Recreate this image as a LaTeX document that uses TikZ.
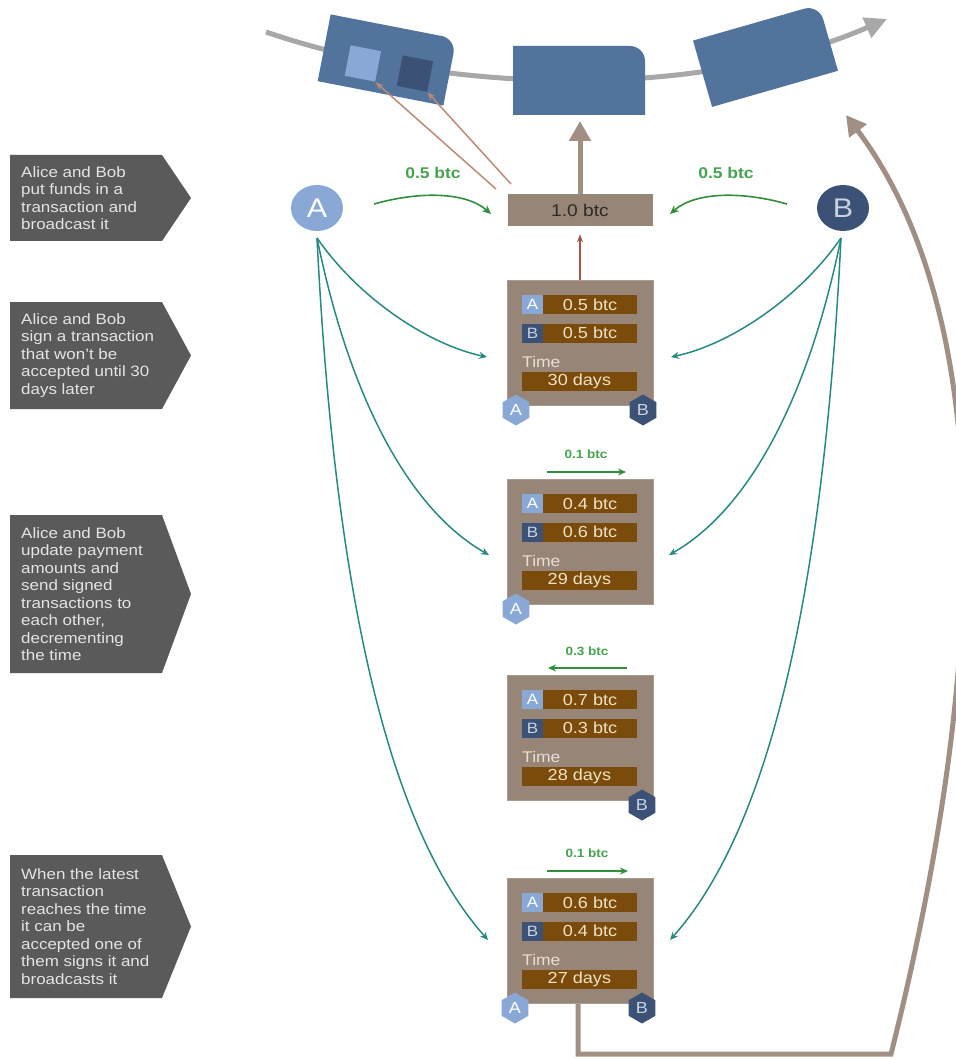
\documentclass[tikz,border=0pt]{standalone}
\usepackage{fontspec}
\setmainfont{Liberation Sans}[FakeStretch=1.13]
\usetikzlibrary{arrows.meta,shapes.geometric}
\definecolor{gray5}{HTML}{5A5A5A}
\definecolor{ltxt}{HTML}{E4E4E4}
\definecolor{taupe}{HTML}{978677}
\definecolor{taupeb}{HTML}{A99B8E}
\definecolor{barbrown}{HTML}{7A4B0A}
\definecolor{bartext}{HTML}{F0E2C4}
\definecolor{lightA}{HTML}{89A8D6}
\definecolor{darkB}{HTML}{3B5176}
\definecolor{paleB}{HTML}{C9D2DF}
\definecolor{blk}{HTML}{52739B}
\definecolor{curvegray}{HTML}{A8A8A8}
\definecolor{glab}{HTML}{45A24F}
\definecolor{garr}{HTML}{2F8F3C}
\definecolor{tealc}{HTML}{278A82}
\definecolor{loopc}{HTML}{A08F82}
\definecolor{salmonc}{HTML}{BC8A74}
\definecolor{redb}{HTML}{A35648}
\definecolor{timec}{HTML}{E8DED6}
\definecolor{btctext}{HTML}{2E2A26}
\newcommand\txbox[5]{%
  \node[txbg] (#1) at (580,#2+62.5) {};
  \node[sqA] (#1sa) at (532.5,#2+24.5) {A};
  \node[bar] (#1va) at (590,#2+24.5) {#3};
  \node[sqB] (#1sb) at (532.5,#2+53) {B};
  \node[bar] (#1vb) at (590,#2+53) {#4};
  \node[timelbl] (#1t) at (522,#2+82) {Time};
  \node[tbar] (#1d) at (579.4,#2+101.5) {#5};
}
\newcommand\leftbox[5]{% name, top, bottom, mid, text
  \fill[gray5] (10,#2) -- (162,#2) -- (191,#4) -- (162,#3) -- (10,#3) -- cycle;
  \node[ltext] (#1) at (21,#4) {#5};
}
\begin{document}
\begin{tikzpicture}[x=1pt,y=-1pt,
  ltext/.style={text=ltxt, align=left, inner sep=0, anchor=west, font=\fontsize{15}{17.5}\selectfont},
  txbg/.style={rectangle, fill=taupe, draw=taupeb, line width=1pt, minimum width=146pt, minimum height=125pt, inner sep=0},
  sqA/.style={rectangle, fill=lightA, minimum width=21.5pt, minimum height=19pt, inner sep=0, text=white, font=\fontsize{15}{15}\selectfont},
  sqB/.style={sqA, fill=darkB, text=paleB},
  bar/.style={rectangle, fill=barbrown, minimum width=94pt, minimum height=19pt, inner sep=0, text=bartext, font=\fontsize{16}{16}\selectfont},
  tbar/.style={bar, minimum width=115.5pt},
  timelbl/.style={anchor=west, inner sep=0, text=timec, font=\fontsize{15.5}{15.5}\selectfont},
  hexA/.style={regular polygon, regular polygon sides=6, shape border rotate=30, minimum size=31pt, inner sep=0, fill=lightA, text=white, font=\fontsize{16}{16}\selectfont},
  hexB/.style={hexA, fill=darkB, text=paleB},
  circA/.style={ellipse, minimum width=52pt, minimum height=46pt, inner sep=0, fill=lightA, text=white, font=\fontsize{27}{27}\selectfont},
  circB/.style={circA, fill=darkB, text=paleB},
  glabel/.style={text=glab, inner sep=0, font=\bfseries\fontsize{15.5}{15.5}\selectfont},
  gsmall/.style={text=glab, inner sep=0, font=\bfseries\fontsize{12}{12}\selectfont},
  garrow/.style={draw=garr, line width=1.6pt, -{Stealth[length=9pt,width=8pt]}},
  gsarrow/.style={draw=garr, line width=1.6pt, -{Stealth[length=8pt,width=7pt]}},
  tealarrow/.style={draw=tealc, line width=1.5pt, -{Stealth[length=8pt,width=7pt]}},
  bigarrow/.style={draw=loopc, line width=5pt, -{Triangle[length=20pt,width=21pt]}},
  thinred/.style={draw=redb, line width=1.3pt, -{Stealth[length=8pt,width=6pt]}},
  salmonline/.style={draw=salmonc, line width=1.5pt, -{Stealth[length=8pt,width=6pt]}},
  chain/.style={draw=curvegray, line width=5pt, -{Triangle[length=22pt,width=21pt]}},
  btcbox/.style={rectangle, fill=taupe, minimum width=145pt, minimum height=32pt, inner sep=0, text=btctext, font=\fontsize{17}{17}\selectfont}
]
\useasboundingbox (0,0) rectangle (955,1059);

% blockchain curve
\coordinate (c0) at (266,32);
\coordinate (c1) at (887,19);
\draw[chain] (c0) .. controls (450,95) and (700,100) .. (c1);

% left block (with two fund squares)
\begin{scope}[shift={(387,60)}, rotate=-11]
  \fill[blk] (-64,34) -- (-64,-34) -- (49,-34) .. controls (57.3,-34) and (64,-27.3) .. (64,-19) -- (64,34) -- cycle;
  \fill[lightA] (-38.5,-7.5) rectangle (-7.5,23.5);
  \fill[darkB] (14.5,-7.5) rectangle (45.5,23.5);
  \coordinate (sqa) at (-7,24);
  \coordinate (sqb) at (46,24);
\end{scope}
% middle block
\fill[blk] (513,115) -- (513,46) -- (630,46) .. controls (638.3,46) and (645,52.7) .. (645,61) -- (645,115) -- cycle;
% right block
\begin{scope}[shift={(765.5,55.7)}, rotate=16]
  \fill[blk] (-65.5,34.5) -- (-65.5,-34.5) -- (50,-34.5) .. controls (58.6,-34.5) and (65.5,-27.6) .. (65.5,-19) -- (65.5,34.5) -- cycle;
\end{scope}

% left explanation boxes
\leftbox{t1}{155}{241}{198}{Alice and Bob\\put funds in a\\transaction and\\broadcast it}
\leftbox{t2}{302}{409}{355.5}{Alice and Bob\\sign a transaction\\that won't be\\accepted until 30\\days later}
\leftbox{t3}{515}{673}{594}{Alice and Bob\\update payment\\amounts and\\send signed\\transactions to\\each other,\\decrementing\\the time}
\leftbox{t4}{855}{998}{926.5}{When the latest\\transaction\\reaches the time\\it can be\\accepted one of\\them signs it and\\broadcasts it}

% parties
\node[circA] (A) at (317,208) {A};
\node[circB] (B) at (843,208) {B};

% funding transaction
\node[btcbox] (btc) at (580,210) {1.0 btc};
\coordinate (midtip) at (580,121);
\draw[bigarrow] (btc.north) -- (midtip);
\coordinate (s1) at (496,189);
\coordinate (s2) at (511,184);
\draw[salmonline] (s1) -- (sqa);
\draw[salmonline] (s2) -- (sqb);

\node[glabel] (gl1) at (433,173) {0.5 btc};
\node[glabel] (gl2) at (726,173) {0.5 btc};
\coordinate (ga1) at (374,204);
\coordinate (ga2) at (491,214);
\coordinate (gb1) at (787,204);
\coordinate (gb2) at (670,214);
\draw[garrow] (ga1) .. controls (420,191) and (466,192) .. (ga2);
\draw[garrow] (gb1) .. controls (741,191) and (695,192) .. (gb2);

% loop back to the chain
\coordinate (lc) at (891,1054);
\coordinate (ltip) at (846,115);
\coordinate (l0) at (578,1003);
\draw[bigarrow] (l0) |- (lc) .. controls (1000,620) and (985,300) .. (ltip);

% transactions
\txbox{tx1}{280}{0.5 btc}{0.5 btc}{30 days}
\txbox{tx2}{479}{0.4 btc}{0.6 btc}{29 days}
\txbox{tx3}{675}{0.7 btc}{0.3 btc}{28 days}
\txbox{tx4}{878}{0.6 btc}{0.4 btc}{27 days}

\draw[thinred, shorten >=8pt] (tx1.north) -- (btc.south);

% signatures
\node[hexA] (h1a) at (516,410) {A};
\node[hexB] (h1b) at (643,410) {B};
\node[hexA] (h2a) at (516,609) {A};
\node[hexB] (h3b) at (642,805) {B};
\node[hexA] (h4a) at (515,1008) {A};
\node[hexB] (h4b) at (642,1008) {B};

% payment updates
\node[gsmall] (p2) at (586,454) {0.1 btc};
\coordinate (p2a) at (547,472);
\coordinate (p2b) at (626,472);
\draw[gsarrow] (p2a) -- (p2b);
\node[gsmall] (p3) at (587,651) {0.3 btc};
\coordinate (p3a) at (627,668);
\coordinate (p3b) at (548,668);
\draw[gsarrow] (p3a) -- (p3b);
\node[gsmall] (p4) at (587,853) {0.1 btc};
\coordinate (p4a) at (547,871);
\coordinate (p4b) at (628,871);
\draw[gsarrow] (p4a) -- (p4b);

% signed transactions sent
\coordinate (As) at (317,238);
\coordinate (Bs) at (841,238);
\coordinate (ta1) at (487,357);
\coordinate (ta2) at (489,555);
\coordinate (ta4) at (488,940);
\coordinate (tb1) at (671,357);
\coordinate (tb2) at (669,555);
\coordinate (tb4) at (670,940);
\draw[tealarrow] (As) .. controls (360,300) and (430,345) .. (ta1);
\draw[tealarrow] (As) .. controls (350,400) and (410,510) .. (ta2);
\draw[tealarrow] (As) .. controls (335,600) and (390,830) .. (ta4);
\draw[tealarrow] (Bs) .. controls (798,300) and (728,345) .. (tb1);
\draw[tealarrow] (Bs) .. controls (808,400) and (748,510) .. (tb2);
\draw[tealarrow] (Bs) .. controls (823,600) and (768,830) .. (tb4);
\end{tikzpicture}
\end{document}
